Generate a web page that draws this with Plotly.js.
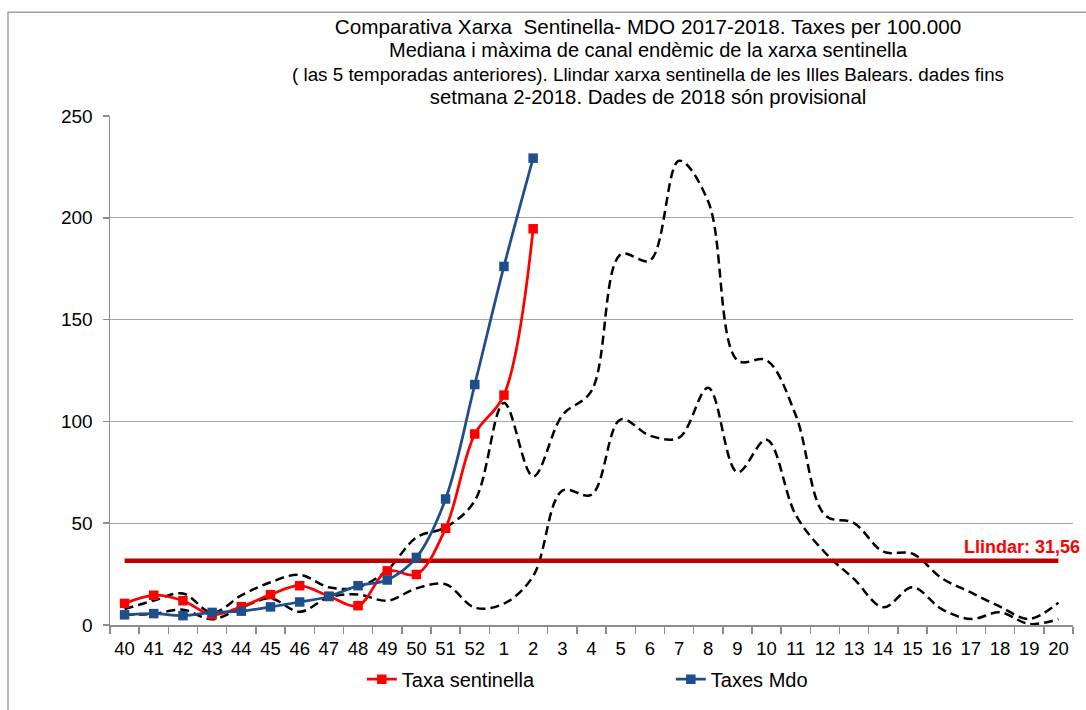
<!DOCTYPE html>
<html>
<head>
<meta charset="utf-8">
<script src="https://cdn.plot.ly/plotly-3.0.1.min.js"></script>
<style>html,body{margin:0;padding:0;background:#fff;}#chart{width:1086px;height:710px;}</style>
</head>
<body>
<div id="chart"></div>
<script>
// Categories: epidemiological weeks (season 2017-2018)
const weeks = ['40','41','42','43','44','45','46','47','48','49','50','51','52',
               '1','2','3','4','5','6','7','8','9','10','11','12','13','14','15','16','17','18','19','20'];

// Observed series (weeks 40..2)
const weeksObserved = weeks.slice(0, 15);
const taxaSentinella = [10.6, 14.6, 11.9, 5.0, 9.0, 14.9, 19.3, 14.1, 9.5, 26.6, 24.8, 47.5, 93.8, 112.9, 194.6];
const taxesMdo       = [5.0, 5.6, 4.6, 6.2, 6.8, 8.9, 11.3, 14.0, 19.3, 22.1, 33.2, 61.9, 118.1, 176.1, 229.3];

// Endemic channel of the previous 5 seasons
const maxima  = [7.8, 12, 15.5, 6, 14.5, 21, 24.7, 18.5, 18.5, 27, 43, 48, 61,
                 109, 73, 103, 115, 182, 179, 228, 208, 130, 130, 103, 54, 50, 36, 35, 23, 16, 9, 3, 11];
const mediana = [5, 5.5, 7.5, 2.8, 8.5, 13, 6.5, 13.6, 15, 11.9, 18, 20, 8.5,
                 10.5, 24, 66, 64, 101, 93, 92, 116.5, 75, 91, 54, 35.6, 22.5, 8.7, 18.5, 7.8, 2.9, 6.2, 0.5, 2.9];

// Threshold
const llindarValue = 31.56;
const llindar = weeks.map(() => llindarValue);
const llindarLabel = 'Llindar: 31,56';

const titleLines = [
  'Comparativa Xarxa  Sentinella- MDO 2017-2018. Taxes per 100.000',
  'Mediana i màxima de canal endèmic de la xarxa sentinella',
  '( las 5 temporadas anteriores). Llindar xarxa sentinella de les Illes Balears. dades fins',
  'setmana 2-2018. Dades de 2018 són provisional'
];
const titleSizes = [20.7, 20, 18.8, 20.3];

const FONT = 'Liberation Sans, Arial, sans-serif';

const traces = [
  {x: weeks, y: maxima, type: 'scatter', mode: 'lines', name: 'Màxima',
   line: {color: '#000', width: 2.5, dash: '9px,5px', shape: 'spline', smoothing: 1},
   showlegend: false, hoverinfo: 'skip'},
  {x: weeks, y: mediana, type: 'scatter', mode: 'lines', name: 'Mediana',
   line: {color: '#000', width: 2.5, dash: '9px,5px', shape: 'spline', smoothing: 1},
   showlegend: false, hoverinfo: 'skip'},
  {x: weeks, y: llindar, type: 'scatter', mode: 'lines', name: 'Llindar',
   line: {color: '#C00000', width: 4.5}, showlegend: false, hoverinfo: 'skip'},
  {x: weeksObserved, y: taxaSentinella, type: 'scatter', mode: 'lines+markers', name: 'Taxa sentinella',
   line: {color: '#FF0000', width: 2.75, shape: 'spline', smoothing: 1},
   marker: {symbol: 'square', size: 9.5, color: '#FF0000'}},
  {x: weeksObserved, y: taxesMdo, type: 'scatter', mode: 'lines+markers', name: 'Taxes Mdo',
   line: {color: '#1F4E8C', width: 2.75, shape: 'spline', smoothing: 1},
   marker: {symbol: 'square', size: 9.5, color: '#1F4E8C'}}
];

const layout = {
  width: 1086, height: 710,
  margin: {l: 110, r: 13, t: 116, b: 84},
  paper_bgcolor: '#fff', plot_bgcolor: '#fff',
  font: {family: FONT, color: '#000', size: 19},
  title: {
    text: titleLines.map((t, i) => '<span style="font-size:' + titleSizes[i] + 'px">' + t + '</span>').join('<br>'),
    font: {family: FONT, size: 18, color: '#000'},
    x: 648 / 1086, xref: 'container', xanchor: 'center',
    y: 1 - 34 / 710, yref: 'container', yanchor: 'top'
  },
  xaxis: {
    type: 'category', categoryorder: 'array', categoryarray: weeks,
    range: [-0.5, 32.5], automargin: false,
    showgrid: false, zeroline: false,
    showline: true, linecolor: '#8c8c8c', linewidth: 1.5,
    ticks: 'outside', tickson: 'boundaries', ticklen: 7, tickcolor: '#8c8c8c', tickwidth: 1.5,
    tickangle: 0,
    tickfont: {family: FONT, size: 18.5, color: '#000'},
    ticklabelstandoff: 6
  },
  yaxis: {
    range: [0, 250], dtick: 50, tick0: 0, automargin: false,
    showgrid: true, gridcolor: '#a6a6a6', gridwidth: 1.3,
    zeroline: false,
    showline: true, linecolor: '#8c8c8c', linewidth: 1.5,
    ticks: 'outside', ticklen: 6, tickcolor: '#8c8c8c', tickwidth: 1.5,
    tickfont: {family: FONT, size: 19, color: '#000'},
    ticklabelstandoff: 6
  },
  legend: {
    orientation: 'h', x: 0.2615, xanchor: 'left', y: -0.066, yanchor: 'top',
    font: {family: FONT, size: 20, color: '#000'},
    entrywidth: 264, entrywidthmode: 'pixels',
    bgcolor: 'rgba(0,0,0,0)', itemclick: false, itemdoubleclick: false
  },
  annotations: [{
    x: weeks.length - 1, y: llindarValue, xref: 'x', yref: 'y',
    text: '<b>' + llindarLabel + '</b>', showarrow: false,
    xanchor: 'right', yanchor: 'middle', xshift: 24, yshift: 14,
    font: {family: FONT, size: 18, color: '#FF0000'}
  }],
  shapes: [{
    type: 'rect', xref: 'paper', yref: 'paper',
    x0: (8 - 110) / 963, x1: 1.2, y0: -0.5, y1: (626 - 12) / 510,
    line: {color: '#a0a0a0', width: 1.5}, fillcolor: 'rgba(0,0,0,0)', layer: 'below'
  }],
  showlegend: true
};

Plotly.newPlot('chart', traces, layout, {displayModeBar: false, staticPlot: true});
</script>
</body>
</html>
